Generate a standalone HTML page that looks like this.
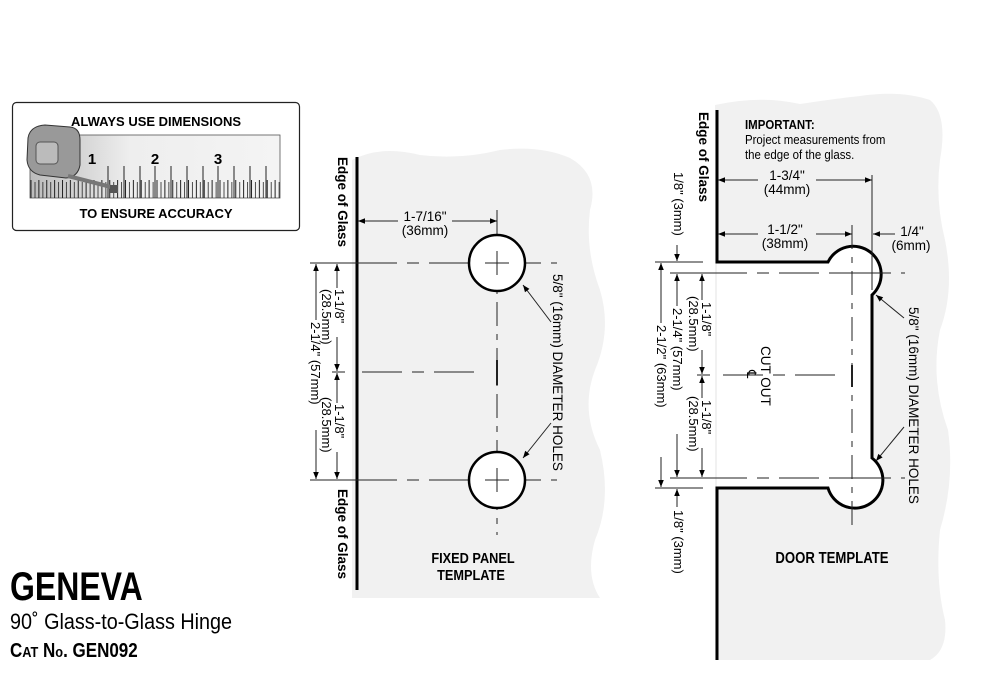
<!DOCTYPE html>
<html><head><meta charset="utf-8"><style>
html,body{margin:0;padding:0;background:#fff;}
svg{display:block;font-family:"Liberation Sans",sans-serif;}
</style></head><body>
<svg width="986" height="690" viewBox="0 0 986 690" xmlns="http://www.w3.org/2000/svg">
<defs>
<marker id="a" viewBox="0 0 10 10" refX="10" refY="5" markerWidth="9" markerHeight="7" orient="auto-start-reverse" markerUnits="userSpaceOnUse"><path d="M0,1 L10,5 L0,9 z" fill="#000"/></marker>
<linearGradient id="rg" x1="0" x2="1"><stop offset="0" stop-color="#bbb"/><stop offset="0.4" stop-color="#eee"/><stop offset="1" stop-color="#f4f4f4"/></linearGradient>
<pattern id="tk" x="30" y="0" width="7.875" height="200" patternUnits="userSpaceOnUse"><line x1="1" y1="180" x2="1" y2="198" stroke="#222" stroke-width="1"/><line x1="5" y1="182" x2="5" y2="198" stroke="#222" stroke-width="0.8"/></pattern>
</defs>

<!-- measuring box -->
<rect x="12.5" y="102.5" width="287" height="128" rx="4" fill="#fff" stroke="#222" stroke-width="1.2"/>
<text x="156" y="126" font-size="13" font-weight="bold" text-anchor="middle">ALWAYS USE DIMENSIONS</text>
<text x="156" y="218" font-size="13" font-weight="bold" text-anchor="middle">TO ENSURE ACCURACY</text>
<rect x="30" y="135" width="250" height="63" fill="url(#rg)" stroke="#555" stroke-width="0.8"/>
<rect x="30" y="170" width="250" height="28" fill="url(#tk)"/>
<g stroke="#222" stroke-width="1"><line x1="108" y1="166" x2="108" y2="198"/><line x1="124" y1="166" x2="124" y2="198"/><line x1="140" y1="166" x2="140" y2="198"/><line x1="155" y1="166" x2="155" y2="198"/><line x1="171" y1="166" x2="171" y2="198"/><line x1="187" y1="166" x2="187" y2="198"/><line x1="203" y1="166" x2="203" y2="198"/><line x1="218" y1="166" x2="218" y2="198"/><line x1="234" y1="166" x2="234" y2="198"/><line x1="250" y1="166" x2="250" y2="198"/><line x1="266" y1="166" x2="266" y2="198"/></g>
<text x="92" y="164" font-size="15" font-weight="bold" text-anchor="middle">1</text>
<text x="155" y="164" font-size="15" font-weight="bold" text-anchor="middle">2</text>
<text x="218" y="164" font-size="15" font-weight="bold" text-anchor="middle">3</text>
<path d="M28,138 Q30,126 45,125 L70,127 Q80,128 80,140 L80,165 Q78,177 66,178 L40,175 Q28,172 27,160 Z" fill="#999" stroke="#333"/>
<rect x="36" y="142" width="22" height="22" rx="4" fill="#bbb" stroke="#555"/>
<path d="M68,176 L115,188" stroke="#777" stroke-width="4"/>
<rect x="110" y="185" width="8" height="8" fill="#555"/>

<!-- title -->
<text x="10" y="600" font-size="40" font-weight="bold" transform="translate(10,600) scale(0.8,1) translate(-10,-600)">GENEVA</text>
<text x="10" y="629" font-size="22" transform="translate(10,629) scale(0.9,1) translate(-10,-629)">90˚ Glass-to-Glass Hinge</text>
<text x="10" y="657" font-size="20" font-weight="bold" transform="translate(10,657) scale(0.85,1) translate(-10,-657)">C<tspan font-size="15">AT</tspan> N<tspan font-size="15">o</tspan>. GEN092</text>

<!-- fixed panel background -->
<path d="M352,160 Q380,145 420,155 Q460,160 500,150 Q540,145 570,158 Q600,175 590,210 Q585,250 600,290 Q612,330 595,370 Q580,410 600,450 Q612,500 595,540 Q585,575 600,598 L352,598 Z" fill="#f1f1f1"/>
<line x1="357" y1="157" x2="357" y2="590" stroke="#000" stroke-width="3"/>
<text transform="translate(338,157) rotate(90)" font-size="13.5" font-weight="bold">Edge of Glass</text>
<text transform="translate(338,489) rotate(90)" font-size="13.5" font-weight="bold">Edge of Glass</text>
<g stroke="#222" stroke-width="1" fill="none">
<line x1="357" y1="263" x2="557" y2="263" stroke-dasharray="40,10,12,10"/>
<line x1="357" y1="480" x2="557" y2="480" stroke-dasharray="40,10,12,10"/>
<line x1="362" y1="372" x2="482" y2="372" stroke-dasharray="40,10,12,10"/>
<line x1="497" y1="210" x2="497" y2="535" stroke-dasharray="24,8,6,8"/>
<line x1="497" y1="360" x2="497" y2="385" stroke-width="2"/>
<line x1="358" y1="221" x2="497" y2="221" marker-start="url(#a)" marker-end="url(#a)"/>
<line x1="310" y1="263" x2="357" y2="263"/><line x1="310" y1="480" x2="357" y2="480"/>
<line x1="332" y1="372" x2="345" y2="372"/>
<line x1="316" y1="320" x2="316" y2="264" marker-end="url(#a)"/>
<line x1="316" y1="430" x2="316" y2="479" marker-end="url(#a)"/>
<line x1="337" y1="288" x2="337" y2="264" marker-end="url(#a)"/>
<line x1="337" y1="337" x2="337" y2="371" marker-end="url(#a)"/>
<line x1="337" y1="403" x2="337" y2="373" marker-end="url(#a)"/>
<line x1="337" y1="452" x2="337" y2="479" marker-end="url(#a)"/>
<line x1="551" y1="322" x2="523" y2="285" marker-end="url(#a)"/>
<line x1="551" y1="423" x2="523" y2="458" marker-end="url(#a)"/>
</g>
<circle cx="497" cy="263" r="28" fill="#fff" stroke="#000" stroke-width="2.5"/>
<circle cx="497" cy="480" r="28" fill="#fff" stroke="#000" stroke-width="2.5"/>
<g stroke="#222" stroke-width="1"><line x1="485" y1="263" x2="509" y2="263"/><line x1="497" y1="251" x2="497" y2="275"/><line x1="485" y1="480" x2="509" y2="480"/><line x1="497" y1="468" x2="497" y2="492"/></g>
<rect x="398" y="210" width="54" height="28" fill="#f1f1f1"/>
<text x="425" y="221" font-size="13.5" text-anchor="middle">1-7/16"</text>
<text x="425" y="235" font-size="13.5" text-anchor="middle">(36mm)</text>
<text transform="translate(335,289) rotate(90)" font-size="13">1-1/8"</text>
<text transform="translate(322,289) rotate(90)" font-size="13">(28.5mm)</text>
<text transform="translate(335,404) rotate(90)" font-size="13">1-1/8"</text>
<text transform="translate(322,397) rotate(90)" font-size="13">(28.5mm)</text>
<text transform="translate(311,322) rotate(90)" font-size="13">2-1/4" (57mm)</text>
<text transform="translate(553,274) rotate(90)" font-size="13.5">5/8" (16mm) DIAMETER HOLES</text>
<text x="473" y="563" font-size="15" font-weight="bold" text-anchor="middle" transform="translate(473,0) scale(0.85,1) translate(-473,0)">FIXED PANEL</text>
<text x="471" y="580" font-size="15" font-weight="bold" text-anchor="middle" transform="translate(471,0) scale(0.85,1) translate(-471,0)">TEMPLATE</text>

<!-- door background -->
<path d="M715,105 Q760,95 800,104 Q840,98 860,96 Q900,90 930,100 Q948,115 940,160 Q935,200 945,240 Q955,290 940,330 Q930,380 948,430 Q955,480 940,530 Q935,580 945,620 Q948,650 930,660 L715,660 Z" fill="#f1f1f1"/>
<path d="M717,262 L828,262 A28,28 0 1 1 872,295 L872,458 A28,28 0 1 1 828,488 L717,488 Z" fill="#fff"/>
<path d="M717,110 L717,262 L828,262 A28,28 0 1 1 872,295 L872,458 A28,28 0 1 1 828,488 L717,488 L717,660" fill="none" stroke="#000" stroke-width="3"/>
<text transform="translate(699,112) rotate(90)" font-size="13.5" font-weight="bold">Edge of Glass</text>
<text x="745" y="129" font-size="13" transform="translate(745,0) scale(0.88,1) translate(-745,0)" font-weight="bold">IMPORTANT:</text>
<text x="745" y="144" font-size="13" transform="translate(745,0) scale(0.88,1) translate(-745,0)">Project measurements from</text>
<text x="745" y="159" font-size="13" transform="translate(745,0) scale(0.88,1) translate(-745,0)">the edge of the glass.</text>
<g stroke="#222" stroke-width="1" fill="none">
<line x1="707" y1="273" x2="905" y2="273" stroke-dasharray="40,10,12,10"/>
<line x1="707" y1="478" x2="905" y2="478" stroke-dasharray="40,10,12,10"/>
<line x1="723" y1="375" x2="840" y2="375" stroke-dasharray="40,10,12,10"/>
<line x1="852" y1="225" x2="852" y2="530" stroke-dasharray="24,8,6,8"/>
<line x1="852" y1="365" x2="852" y2="387" stroke-width="2"/>
<line x1="872" y1="175" x2="872" y2="290"/>
<line x1="718" y1="180" x2="872" y2="180" marker-start="url(#a)" marker-end="url(#a)"/>
<line x1="718" y1="234" x2="852" y2="234" marker-start="url(#a)" marker-end="url(#a)"/>
<line x1="895" y1="234" x2="873" y2="234" marker-end="url(#a)"/>
<line x1="655" y1="262" x2="703" y2="262"/><line x1="655" y1="488" x2="703" y2="488"/>
<line x1="670" y1="273" x2="707" y2="273"/><line x1="670" y1="478" x2="707" y2="478"/>
<line x1="697" y1="375" x2="710" y2="375"/>
<line x1="661" y1="323" x2="661" y2="263" marker-end="url(#a)"/>
<line x1="661" y1="457" x2="661" y2="487" marker-end="url(#a)"/>
<line x1="677" y1="306" x2="677" y2="274" marker-end="url(#a)"/>
<line x1="677" y1="434" x2="677" y2="477" marker-end="url(#a)"/>
<line x1="702" y1="300" x2="702" y2="274" marker-end="url(#a)"/>
<line x1="702" y1="350" x2="702" y2="374" marker-end="url(#a)"/>
<line x1="702" y1="398" x2="702" y2="376" marker-end="url(#a)"/>
<line x1="702" y1="448" x2="702" y2="477" marker-end="url(#a)"/>
<line x1="677" y1="245" x2="677" y2="261" marker-end="url(#a)"/>
<line x1="677" y1="507" x2="677" y2="489" marker-end="url(#a)"/>
<line x1="904" y1="318" x2="876" y2="295" marker-end="url(#a)"/>
<line x1="904" y1="427" x2="876" y2="461" marker-end="url(#a)"/>
</g>
<g stroke="#222" stroke-width="1"><line x1="840" y1="273" x2="864" y2="273"/><line x1="840" y1="478" x2="864" y2="478"/></g>
<rect x="758" y="169" width="58" height="28" fill="#f1f1f1"/>
<text x="787" y="180" font-size="13.5" text-anchor="middle">1-3/4"</text>
<text x="787" y="194" font-size="13.5" text-anchor="middle">(44mm)</text>
<rect x="758" y="223" width="58" height="28" fill="#f1f1f1"/>
<text x="785" y="234" font-size="13.5" text-anchor="middle">1-1/2"</text>
<text x="785" y="248" font-size="13.5" text-anchor="middle">(38mm)</text>
<text x="912" y="236" font-size="13.5" text-anchor="middle">1/4"</text>
<text x="911" y="250" font-size="13.5" text-anchor="middle">(6mm)</text>
<text transform="translate(674,172) rotate(90)" font-size="13">1/8" (3mm)</text>
<text transform="translate(674,510) rotate(90)" font-size="13">1/8" (3mm)</text>
<text transform="translate(702,302) rotate(90)" font-size="13">1-1/8"</text>
<text transform="translate(689,296) rotate(90)" font-size="13">(28.5mm)</text>
<text transform="translate(702,400) rotate(90)" font-size="13">1-1/8"</text>
<text transform="translate(689,396) rotate(90)" font-size="13">(28.5mm)</text>
<text transform="translate(673,308) rotate(90)" font-size="13">2-1/4" (57mm)</text>
<text transform="translate(657,325) rotate(90)" font-size="13">2-1/2" (63mm)</text>
<text transform="translate(761,346) rotate(90)" font-size="13.5">CUT OUT</text>
<text transform="translate(747,370) rotate(90)" font-size="13">℄</text>
<text transform="translate(909,307) rotate(90)" font-size="13.5">5/8" (16mm) DIAMETER HOLES</text>
<text x="832" y="563" font-size="15.5" font-weight="bold" text-anchor="middle" transform="translate(832,0) scale(0.85,1) translate(-832,0)">DOOR TEMPLATE</text>
</svg>
</body></html>
